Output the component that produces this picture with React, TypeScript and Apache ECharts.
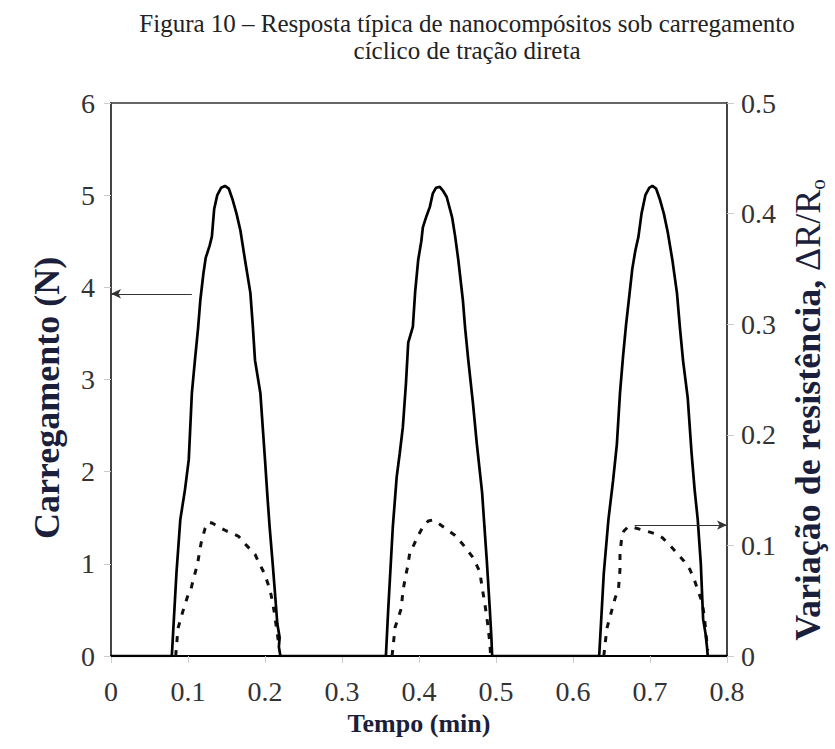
import React, { useEffect, useRef } from "react";
import * as echarts from "echarts";

// Time (min) vs load (N) — solid curve, three loading cycles
const loadCycle1: number[][] = [
  [0.079, 0], [0.081, 0.3], [0.085, 0.9], [0.09, 1.48], [0.096, 1.8], [0.101, 2.13],
  [0.105, 2.85], [0.109, 3.21], [0.113, 3.55], [0.116, 3.86], [0.12, 4.15], [0.123, 4.32],
  [0.128, 4.45], [0.131, 4.55], [0.134, 4.85], [0.138, 5.0], [0.143, 5.08], [0.148, 5.1],
  [0.153, 5.07], [0.158, 4.95], [0.163, 4.8], [0.168, 4.62], [0.174, 4.3], [0.181, 3.94],
  [0.184, 3.6], [0.187, 3.21], [0.194, 2.85], [0.2, 2.13], [0.203, 1.75], [0.206, 1.4],
  [0.21, 1.0], [0.213, 0.68], [0.216, 0.35], [0.219, 0.2], [0.218, 0.1], [0.22, 0],
];
const loadCycle2: number[][] = [
  [0.357, 0], [0.36, 0.5], [0.363, 0.95], [0.366, 1.4], [0.371, 1.94], [0.375, 2.2],
  [0.379, 2.48], [0.383, 2.95], [0.386, 3.4], [0.392, 3.57], [0.395, 3.95], [0.399, 4.3],
  [0.403, 4.5], [0.405, 4.65], [0.41, 4.78], [0.414, 4.87], [0.418, 5.02], [0.422, 5.08],
  [0.427, 5.09], [0.431, 5.05], [0.436, 4.98], [0.443, 4.76], [0.447, 4.55], [0.451, 4.3],
  [0.457, 3.86], [0.46, 3.55], [0.464, 3.21], [0.47, 2.75], [0.475, 2.31], [0.482, 1.77],
  [0.485, 1.4], [0.488, 1.04], [0.492, 0.5], [0.494, 0.2], [0.495, 0],
];
const loadCycle3: number[][] = [
  [0.634, 0], [0.636, 0.3], [0.64, 0.9], [0.646, 1.48], [0.652, 1.9], [0.657, 2.3],
  [0.661, 2.85], [0.665, 3.25], [0.669, 3.6], [0.673, 3.9], [0.677, 4.2], [0.681, 4.4],
  [0.685, 4.55], [0.689, 4.8], [0.694, 5.0], [0.699, 5.08], [0.703, 5.1], [0.708, 5.07],
  [0.713, 4.95], [0.718, 4.8], [0.723, 4.6], [0.729, 4.3], [0.735, 3.94], [0.739, 3.55],
  [0.743, 3.2], [0.749, 2.8], [0.754, 2.2], [0.758, 1.8], [0.762, 1.48], [0.766, 1.0],
  [0.768, 0.6], [0.769, 0.4], [0.772, 0.25], [0.774, 0.1], [0.775, 0],
];

// Time (min) vs resistance change ΔR/Ro — dashed curve
const resistCycle1: number[][] = [
  [0.084, 0.0], [0.087, 0.025], [0.094, 0.042], [0.1, 0.055], [0.104, 0.061], [0.108, 0.072],
  [0.112, 0.082], [0.117, 0.102], [0.122, 0.115], [0.127, 0.121], [0.132, 0.12], [0.139, 0.117],
  [0.15, 0.113], [0.158, 0.111], [0.166, 0.108], [0.176, 0.1], [0.187, 0.092], [0.193, 0.083],
  [0.199, 0.075], [0.204, 0.065], [0.208, 0.055], [0.212, 0.04], [0.215, 0.025], [0.218, 0.01],
];
const resistCycle2: number[][] = [
  [0.365, 0.0], [0.369, 0.026], [0.377, 0.043], [0.379, 0.058], [0.382, 0.07], [0.385, 0.08],
  [0.388, 0.093], [0.393, 0.1], [0.399, 0.109], [0.406, 0.118], [0.412, 0.122], [0.418, 0.123],
  [0.425, 0.12], [0.435, 0.115], [0.447, 0.109], [0.458, 0.1], [0.469, 0.09], [0.475, 0.082],
  [0.479, 0.076], [0.482, 0.062], [0.486, 0.045], [0.489, 0.03], [0.492, 0.012], [0.493, 0.0],
];
const resistCycle3: number[][] = [
  [0.64, 0.0], [0.644, 0.025], [0.648, 0.035], [0.651, 0.043], [0.655, 0.053], [0.659, 0.06],
  [0.661, 0.078], [0.661, 0.093], [0.663, 0.105], [0.666, 0.113], [0.672, 0.117], [0.68, 0.116],
  [0.69, 0.114], [0.7, 0.112], [0.709, 0.11], [0.716, 0.107], [0.726, 0.1], [0.735, 0.093],
  [0.744, 0.086], [0.752, 0.078], [0.758, 0.068], [0.763, 0.058], [0.768, 0.048], [0.771, 0.033],
  [0.773, 0.018], [0.775, 0.005],
];

// Annotation arrows: [startX, y] -> [endX, y] in load-axis coordinates
const arrowLoad: number[][] = [[0.105, 3.93], [0, 3.93]];
const arrowResist: number[][] = [[0.68, 1.42], [0.8, 1.42]];

const titleText = "Figura 10 – Resposta típica de nanocompósitos sob carregamento\ncíclico de tração direta";
const xName = "Tempo (min)";
const yLeftName = "Carregamento (N)";

const SERIF = "Liberation Serif, Times New Roman, serif";

export default function App() {
  const ref = useRef<HTMLDivElement>(null);
  useEffect(() => {
    const chart = echarts.init(ref.current!, null, { renderer: "svg" });
    const loadData = [[0, 0], ...loadCycle1, ...loadCycle2, ...loadCycle3, [0.8, 0]];
    const tickLabel = { fontFamily: SERIF, fontSize: 28, color: "#333" };
    const dashed = (d: number[][]) => ({
      type: "line",
      yAxisIndex: 1,
      data: d,
      symbol: "none",
      z: 2,
      lineStyle: { color: "#111", width: 3, type: [6, 8] },
    });
    chart.setOption({
      animation: false,
      backgroundColor: "#fff",
      grid: {
        left: 111, right: 108, top: 103, bottom: 93,
        show: true, borderColor: "#666", borderWidth: 2,
      },
      xAxis: {
        type: "value", min: 0, max: 0.8, interval: 0.1,
        axisLine: { show: true, onZero: false, lineStyle: { color: "#000", width: 2 } },
        axisTick: { show: true, inside: false, length: 7, lineStyle: { color: "#ccc", width: 1 } },
        axisLabel: { ...tickLabel, margin: 21, formatter: (v: number) => String(Math.round(v * 10) / 10) },
        splitLine: { show: false },
      },
      yAxis: [
        {
          type: "value", min: 0, max: 6, interval: 1, position: "left",
          axisLine: { show: true, lineStyle: { color: "#444", width: 2 } },
          axisTick: { show: true, inside: false, length: 7, lineStyle: { color: "#ccc", width: 1 } },
          axisLabel: { ...tickLabel, margin: 16 },
          splitLine: { show: false },
        },
        {
          type: "value", min: 0, max: 0.5, interval: 0.1, position: "right",
          axisLine: { show: true, lineStyle: { color: "#444", width: 2 } },
          axisTick: { show: true, inside: false, length: 7, lineStyle: { color: "#ccc", width: 1 } },
          axisLabel: {
            ...tickLabel, margin: 14,
            formatter: (v: number) => (v === 0 ? "0" : v.toFixed(1)),
          },
          splitLine: { show: false },
        },
      ],
      series: [
        {
          type: "line",
          yAxisIndex: 0,
          data: loadData,
          symbol: "none",
          z: 3,
          lineStyle: { color: "#000", width: 2.7 },
          markLine: {
            silent: true,
            symbol: ["none", "arrow"],
            symbolSize: [7, 10],
            label: { show: false },
            lineStyle: { color: "#333", width: 1.2, type: "solid" },
            data: [
              [{ coord: arrowLoad[0] }, { coord: arrowLoad[1] }],
              [{ coord: arrowResist[0] }, { coord: arrowResist[1] }],
            ],
          },
        },
        dashed(resistCycle1),
        dashed(resistCycle2),
        dashed(resistCycle3),
      ],
      graphic: [
        {
          type: "text", x: 467, y: 10,
          style: {
            text: titleText, font: `25px ${SERIF}`, fill: "#222",
            align: "center", verticalAlign: "top", lineHeight: 27,
          },
        },
        {
          type: "text", x: 419, y: 723,
          style: {
            text: xName, font: `bold 26px ${SERIF}`, fill: "#1b1f3b",
            align: "center", verticalAlign: "middle",
          },
        },
        {
          type: "text", x: 47, y: 398, rotation: Math.PI / 2,
          style: {
            text: yLeftName, font: `bold 36px ${SERIF}`, fill: "#1b1f3b",
            align: "center", verticalAlign: "middle",
          },
        },
        {
          type: "text", x: 808, y: 410, rotation: Math.PI / 2,
          style: {
            text: "{b|Variação de resistência, }{r|ΔR/R}{s|o}",
            align: "center", verticalAlign: "middle",
            rich: {
              b: { fontFamily: SERIF, fontWeight: "bold", fontSize: 36, fill: "#1b1f3b", lineHeight: 40 },
              r: { fontFamily: SERIF, fontSize: 36, fill: "#1b1f3b", lineHeight: 40 },
              s: { fontFamily: SERIF, fontSize: 21, fill: "#1b1f3b", lineHeight: 21, verticalAlign: "bottom" },
            },
          },
        },
      ],
    });
    return () => chart.dispose();
  }, []);
  return (
    <div
      ref={ref}
      style={{ position: "absolute", left: 0, top: 0, width: 835, height: 749, background: "#fff" }}
    />
  );
}
